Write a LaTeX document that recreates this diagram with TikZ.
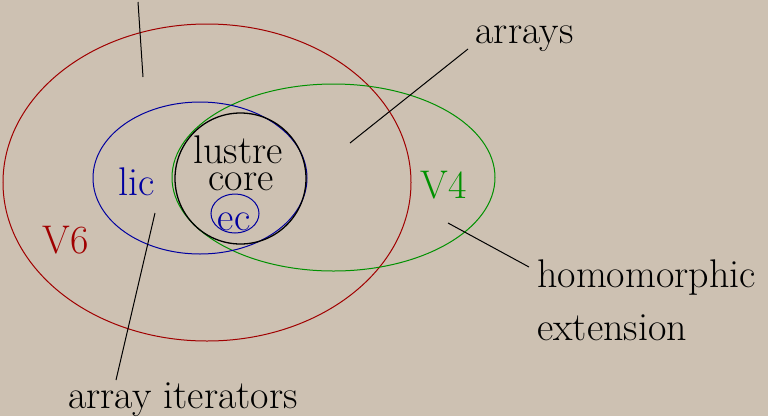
\documentclass[tikz,border=0pt]{standalone}
\usepackage{fontspec}
\usetikzlibrary{shapes.geometric}
\definecolor{bg}{RGB}{205,193,178}
\definecolor{vsix}{RGB}{160,0,0}
\definecolor{vfour}{RGB}{0,145,0}
\definecolor{licblue}{RGB}{0,0,160}
\tikzset{
  set/.style={draw, ellipse, inner sep=0pt, line width=1pt},
  lbl/.style={anchor=base, inner sep=0pt, font=\fontsize{40}{44}\selectfont},
  leader/.style={draw=black, line width=1pt}
}
\begin{document}
\begin{tikzpicture}[x=1pt,y=-1pt]
\fill[bg] (0,0) rectangle (768,416);
\useasboundingbox (0,0) rectangle (768,416);
% sets
\node[set, draw=vsix, minimum width=408pt, minimum height=317pt] (v6) at (207,182.5) {};
\node[set, draw=vfour, minimum width=323pt, minimum height=187pt] (v4) at (333.5,177.5) {};
\node[set, draw=licblue, minimum width=214pt, minimum height=152pt] (lic) at (200,178) {};
\node[set, draw=black, line width=1.3pt, minimum width=131pt, minimum height=131pt] (core) at (240.5,178.5) {};
\node[set, draw=licblue, minimum width=48pt, minimum height=39pt] (ecset) at (235,213.5) {};
% labels
\node[lbl, text=vsix] (v6l) at (66,253) {V6};
\node[lbl, text=licblue] (licl) at (136.5,195) {lic};
\node[lbl, text=vfour] (v4l) at (444,198) {V4};
\node[lbl] (lustre) at (238,163) {lustre};
\node[lbl] (corel) at (241,190) {core};
\node[lbl, text=licblue] (ecl) at (234,230) {ec};
\node[lbl] (arrays) at (524.5,43) {arrays};
\node[lbl, anchor=base west] (homo) at (537,287) {homomorphic};
\node[lbl, anchor=base west] (ext) at (537,340) {extension};
\node[lbl] (iter) at (183,408) {array iterators};
% leaders
\coordinate (t1) at (138,2);
\coordinate (t2) at (143,77);
\coordinate (a1) at (350,143);
\coordinate (a2) at (468,49);
\coordinate (h1) at (448,223);
\coordinate (h2) at (529,267);
\coordinate (i1) at (155,213);
\coordinate (i2) at (116,380);
\draw[leader] (t1) -- (t2);
\draw[leader] (a1) -- (a2);
\draw[leader] (h1) -- (h2);
\draw[leader] (i1) -- (i2);
\end{tikzpicture}
\end{document}
